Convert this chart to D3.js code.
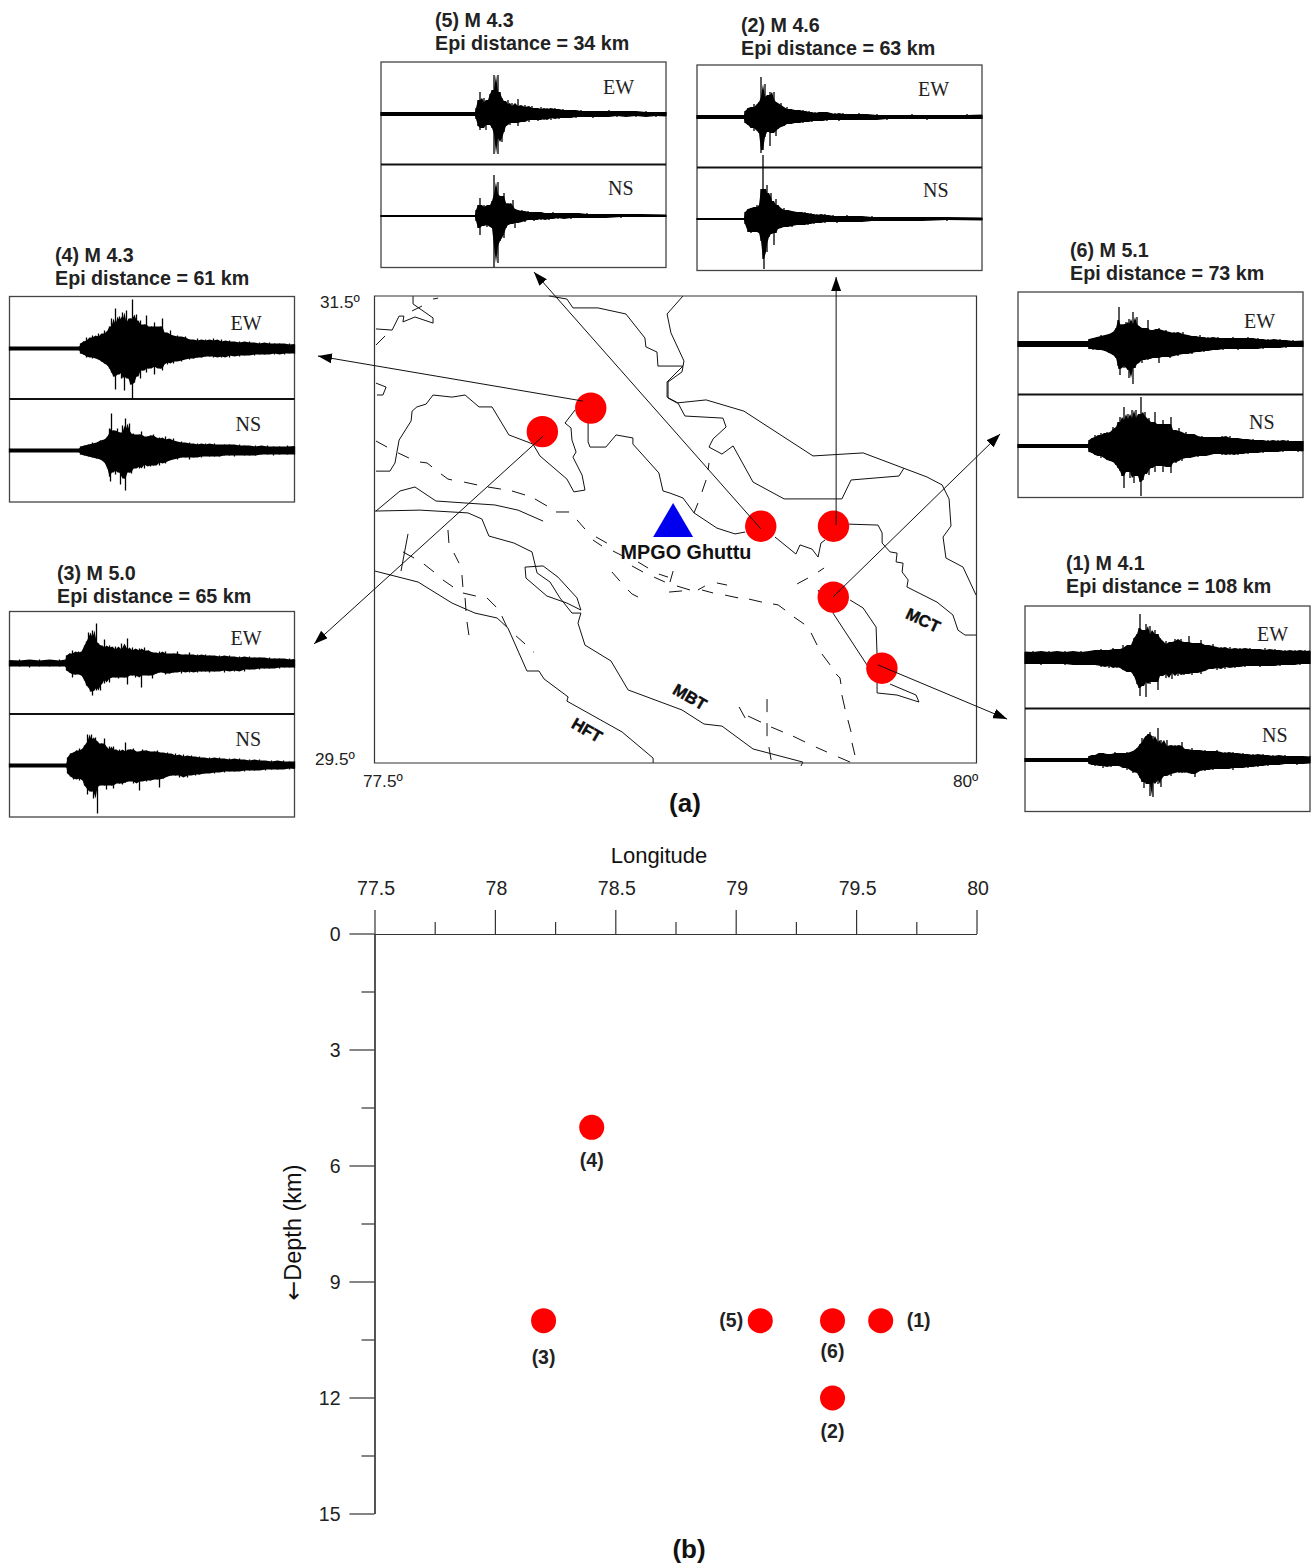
<!DOCTYPE html>
<html>
<head>
<meta charset="utf-8">
<style>
  html, body { margin: 0; padding: 0; background: #fff; }
  svg { display: block; }
  text { font-family: "Liberation Sans", Arial, sans-serif; fill: #111; }
  .wave-tag { font-family: "Liberation Serif", serif; font-size: 20px; fill: #222; }
  .title { font-size: 19.7px; font-weight: bold; fill: #222; }
  .map-deg { font-size: 17.2px; fill: #222; }
  .fault-name { font-size: 16.5px; font-weight: bold; stroke: #000; stroke-width: .4px; }
  .tick text, .tick-label { font-size: 19.5px; fill: #222; }
  .event-label { font-size: 19.5px; font-weight: bold; fill: #222; }
</style>
</head>
<body>
<svg id="chart" width="1312" height="1565"></svg>
<script src="https://cdn.jsdelivr.net/npm/d3@7"></script>
<script>
// events: number, longitude, depth in km, and where the map plots them
const eventIds = ["(1)", "(2)", "(3)", "(4)", "(5)", "(6)"]
const eventLon = [79.6, 79.4, 78.2, 78.4, 79.1, 79.4]
const eventDepth = [10, 12, 10, 5, 10, 10]
const eventMapLon = [79.605, 79.404, 78.195, 78.396, 79.102, 79.403]
const eventMapLat = [29.906, 30.514, 30.919, 31.02, 30.514, 30.21]
const eventMag = ["4.1", "4.6", "5.0", "4.3", "4.3", "5.1"]
const eventDist = [108, 63, 65, 61, 34, 73]

// arrows from each event out to its waveform box, lon/lat
const arrowStart = [[79.589, 29.92], [79.415, 30.519], [78.198, 30.9], [78.364, 31.05], [79.103, 30.502], [79.402, 30.211]]
const arrowTip = [[80.125, 29.688], [79.415, 31.581], [77.247, 30.01], [77.263, 31.243], [78.16, 31.603], [80.096, 30.909]]

const stationName = "MPGO Ghuttu"
const stationLonLat = [78.738, 30.468]
const faultNames = ["MCT", "MBT", "HFT"]
const faultNameLonLat = [[79.776, 30.112], [78.808, 29.783], [78.38, 29.641]]

const lonTicks = [77.5, 78, 78.5, 79, 79.5, 80]
const lonMinorTicks = [77.75, 78.25, 78.75, 79.25, 79.75]
const depthTicks = [0, 3, 6, 9, 12, 15]
const depthMinorTicks = [1.5, 4.5, 7.5, 10.5, 13.5]

// solid geological / fault traces, [lon, lat]
const faultTraces = [
  [[77.658, 31.5], [77.658, 31.466], [77.741, 31.406], [77.741, 31.384], [77.666, 31.41], [77.616, 31.389], [77.62, 31.414], [77.6, 31.414], [77.571, 31.354], [77.504, 31.359]],
  [[77.504, 31.127], [77.546, 31.11], [77.533, 31.076], [77.508, 31.076]],
  [[77.504, 30.75], [77.562, 30.75], [77.583, 30.785], [77.6, 30.883], [77.65, 30.965], [77.654, 31.007], [77.674, 31.025], [77.712, 31.037], [77.741, 31.076], [77.82, 31.067], [77.874, 31.076], [77.932, 31.025], [77.986, 31.025], [78.056, 30.905], [78.156, 30.866], [78.185, 30.815], [78.297, 30.716], [78.326, 30.661], [78.372, 30.669], [78.36, 30.733], [78.322, 30.81], [78.335, 30.832], [78.318, 30.883], [78.314, 30.935], [78.289, 30.956], [78.331, 31.012]],
  [[78.385, 30.956], [78.385, 30.875], [78.393, 30.853], [78.459, 30.853], [78.501, 30.905], [78.571, 30.892], [78.571, 30.866], [78.679, 30.742], [78.696, 30.665], [78.725, 30.656], [78.779, 30.635], [78.825, 30.571], [78.92, 30.506], [78.995, 30.481], [79.037, 30.489]],
  [[79.161, 30.468], [79.248, 30.395], [79.265, 30.434], [79.315, 30.416], [79.34, 30.382], [79.352, 30.442], [79.369, 30.455]],
  [[79.468, 30.523], [79.589, 30.519], [79.606, 30.485], [79.606, 30.442], [79.639, 30.404], [79.668, 30.399], [79.664, 30.361], [79.693, 30.356], [79.689, 30.318], [79.714, 30.284], [79.709, 30.254], [79.834, 30.189], [79.9, 30.134], [79.921, 30.069], [79.95, 30.048], [79.996, 30.048]],
  [[78.223, 31.5], [78.297, 31.487], [78.322, 31.449], [78.426, 31.449], [78.542, 31.423], [78.621, 31.32], [78.625, 31.282], [78.671, 31.26], [78.675, 31.2], [78.779, 31.2], [78.713, 31.132], [78.713, 31.067], [78.758, 31.042], [78.787, 30.986], [78.945, 30.977], [78.958, 30.939], [78.904, 30.888], [78.887, 30.853], [78.941, 30.823], [78.987, 30.858], [79.07, 30.703], [79.199, 30.631], [79.439, 30.631], [79.477, 30.712], [79.676, 30.729], [79.697, 30.763]],
  [[78.779, 31.5], [78.713, 31.423], [78.729, 31.342], [78.783, 31.222], [78.775, 31.175], [78.717, 31.132], [78.717, 31.063], [78.754, 31.042], [78.875, 31.055], [79.032, 31.007], [79.319, 30.815], [79.527, 30.828], [79.792, 30.725], [79.855, 30.691], [79.884, 30.631], [79.892, 30.515], [79.859, 30.468], [79.871, 30.378], [79.942, 30.339], [79.996, 30.219]],
  [[77.504, 30.579], [77.604, 30.665], [77.666, 30.682], [77.753, 30.622], [77.882, 30.613], [77.998, 30.605], [78.094, 30.583], [78.198, 30.536]],
  [[77.5, 30.579], [77.687, 30.583], [77.886, 30.571], [77.944, 30.545], [77.973, 30.472], [78.077, 30.442], [78.152, 30.404], [78.173, 30.314], [78.227, 30.275], [78.268, 30.207], [78.318, 30.142], [78.355, 30.142], [78.343, 30.099], [78.372, 30.005], [78.48, 29.937], [78.551, 29.813], [78.775, 29.727], [78.866, 29.667], [78.941, 29.658], [79.07, 29.56], [79.277, 29.504], [79.269, 29.487]],
  [[78.123, 30.339], [78.198, 30.344], [78.26, 30.296], [78.339, 30.207], [78.355, 30.155], [78.297, 30.185], [78.214, 30.215], [78.127, 30.292], [78.123, 30.339]],
  [[77.5, 30.322], [77.679, 30.275], [77.82, 30.185], [77.915, 30.142], [78.007, 30.121], [78.052, 30.078], [78.131, 29.894], [78.181, 29.894], [78.202, 29.86], [78.302, 29.783], [78.297, 29.765], [78.526, 29.633], [78.655, 29.521], [78.655, 29.5]],
  [[79.402, 30.142], [79.543, 29.92]],
  [[79.473, 30.198], [79.527, 30.164], [79.581, 30.082], [79.585, 29.962]],
  [[79.639, 29.838], [79.747, 29.791], [79.759, 29.761], [79.668, 29.791], [79.585, 29.8], [79.585, 29.843]]
]

// the dashed traces, one short stroke at a time
const dashTraces = [
  [[77.504, 30.879], [77.55, 30.853]], [[77.596, 30.828], [77.641, 30.806]],
  [[77.687, 30.789], [77.716, 30.785], [77.737, 30.768]], [[77.774, 30.738], [77.803, 30.716], [77.82, 30.712]],
  [[77.87, 30.703], [77.924, 30.691]], [[77.969, 30.682], [78.023, 30.673]],
  [[78.069, 30.665], [78.123, 30.648]], [[78.164, 30.631], [78.214, 30.601]],
  [[78.252, 30.575], [78.306, 30.575]], [[78.339, 30.541], [78.372, 30.502]],
  [[78.418, 30.468], [78.463, 30.442]], [[78.405, 30.455], [78.443, 30.429]],
  [[78.488, 30.408], [78.538, 30.382]], [[78.592, 30.361], [78.634, 30.335]],
  [[78.567, 30.344], [78.613, 30.318]], [[78.659, 30.296], [78.704, 30.275]],
  [[78.679, 30.309], [78.717, 30.296]], [[78.738, 30.322], [78.725, 30.275]],
  [[78.484, 30.318], [78.517, 30.279]], [[78.551, 30.241], [78.567, 30.224], [78.592, 30.211]],
  [[78.721, 30.232], [78.775, 30.237]], [[78.754, 30.258], [78.808, 30.241]],
  [[78.841, 30.241], [78.87, 30.258]], [[78.858, 30.241], [78.904, 30.228]],
  [[78.92, 30.271], [78.962, 30.262]], [[78.954, 30.219], [79.008, 30.207]],
  [[79.053, 30.202], [79.107, 30.189]], [[79.153, 30.181], [79.174, 30.177], [79.203, 30.155]],
  [[79.24, 30.125], [79.282, 30.095]], [[79.311, 30.057], [79.336, 30.005]],
  [[79.356, 29.967], [79.39, 29.92]], [[79.415, 29.881], [79.431, 29.864], [79.435, 29.838]],
  [[79.439, 29.791], [79.452, 29.731]], [[79.464, 29.684], [79.477, 29.633]],
  [[79.481, 29.586], [79.493, 29.534]], [[79.253, 30.267], [79.298, 30.292]],
  [[79.34, 30.318], [79.365, 30.335]], [[79.34, 30.241], [79.352, 30.219]],
  [[79.012, 29.74], [79.037, 29.693]], [[79.049, 29.701], [79.103, 29.675]],
  [[79.145, 29.654], [79.194, 29.633]], [[79.236, 29.615], [79.286, 29.59]],
  [[79.331, 29.568], [79.377, 29.547]], [[79.423, 29.526], [79.473, 29.504]],
  [[79.128, 29.774], [79.128, 29.718]], [[79.128, 29.671], [79.128, 29.615]],
  [[79.136, 29.568], [79.145, 29.513]], [[78.887, 30.785], [78.883, 30.755]],
  [[78.875, 30.712], [78.858, 30.661]], [[78.841, 30.613], [78.825, 30.571]],
  [[77.637, 30.481], [77.608, 30.322]], [[77.616, 30.404], [77.662, 30.378]],
  [[77.703, 30.352], [77.745, 30.318]], [[77.782, 30.284], [77.824, 30.254]],
  [[77.865, 30.228], [77.882, 30.224], [77.919, 30.215]], [[77.965, 30.207], [78.003, 30.168]],
  [[78.027, 30.129], [78.048, 30.082]], [[78.086, 30.044], [78.123, 30.01]],
  [[77.803, 30.498], [77.807, 30.442]], [[77.828, 30.399], [77.849, 30.356]],
  [[77.861, 30.305], [77.865, 30.254]], [[77.874, 30.207], [77.878, 30.151]],
  [[77.882, 30.104], [77.89, 30.048]], [[77.654, 31.436], [77.695, 31.457]],
  [[77.741, 31.487], [77.762, 31.491]], [[77.504, 31.29], [77.542, 31.329]],
  [[78.156, 29.975], [78.159, 29.975]]
]

// waveform envelopes: [time along trace, amplitude up, amplitude down]
const ew1 = [[0,6,6],[8,7,6],[16,6,7],[24,7,6],[32,6,6],[40,7,7],[48,6,6],[56,7,7],[64,6,7],[70,8,7],[76,9,9],[80,7,8],[84,8,10],[88,10,8],[92,9,10],[95,8,9],[98,13,12],[102,10,14],[106,13,14],[109,20,18],[112,24,26],[114,30,30],[115,44,38],[117,26,28],[119,28,24],[121,34,39],[123,24,24],[125,32,26],[127,20,22],[130,28,24],[133,24,32],[135,20,18],[138,14,16],[141,17,20],[144,13,14],[147,16,21],[150,19,15],[153,17,18],[156,19,14],[159,15,17],[162,16,16],[164,22,15],[167,15,17],[170,14,15],[173,15,14],[176,18,16],[180,13,13],[184,12,11],[188,14,10],[192,10,12],[196,11,9],[200,9,11],[205,11,9],[210,9,10],[215,10,8],[220,8,9],[225,10,8],[230,9,7],[235,8,9],[240,10,8],[245,8,8],[250,9,7],[255,7,8],[260,8,7],[265,7,7],[270,8,6],[275,7,7],[280,8,6],[285,7,6]]
const ns1 = [[0,2,2],[63,2,2],[64,4,4],[67,5,5],[70,5,6],[74,7,5],[78,7,8],[82,6,6],[86,5,7],[90,8,6],[94,7,6],[98,6,8],[102,8,10],[105,7,8],[108,9,13],[112,12,12],[115,16,18],[117,22,22],[119,18,28],[121,24,20],[123,26,24],[125,28,36],[127,20,22],[128,24,37],[130,18,18],[133,32,24],[135,16,20],[136,20,27],[139,14,16],[142,20,14],[146,13,16],[150,15,12],[154,14,13],[157,18,11],[160,11,13],[163,10,12],[167,12,14],[170,10,17],[175,9,10],[180,10,11],[184,8,9],[188,9,10],[192,10,8],[196,7,9],[200,8,9],[204,7,7],[208,8,10],[213,6,8],[218,7,7],[223,5,8],[228,6,6],[233,5,7],[238,6,5],[243,4,6],[248,5,5],[254,4,5],[260,5,4],[266,4,4],[272,4,5],[278,3,4],[285,4,3]]
const ew2 = [[0,2,2],[47,2,2],[48,6,6],[51,9,8],[54,10,11],[57,13,14],[60,9,10],[62,15,16],[64,40,36],[66,20,33],[68,33,20],[70,18,15],[72,22,14],[73,25,29],[75,18,16],[77,25,14],[79,15,19],[81,12,12],[84,14,10],[87,8,9],[90,10,7],[94,8,7],[98,7,6],[103,6,5],[106,7,6],[109,5,5],[112,6,4],[115,4,5],[118,5,4],[122,4,4],[126,5,3],[130,5,4],[134,3,3],[138,4,3],[142,3,4],[146,4,3],[150,3,3],[156,3,3],[162,4,3],[170,2,3],[180,3,2],[190,2,3],[200,2,2],[215,3,2],[230,2,3],[250,2,2],[270,3,2],[285,2,2]]
const ns2 = [[0,1,1],[47,1,1],[48,7,5],[51,10,13],[54,11,14],[57,12,13],[60,14,12],[62,8,14],[64,30,22],[66,64,40],[67,30,50],[69,26,25],[70,34,33],[72,22,18],[74,26,15],[75,18,12],[77,14,26],[79,20,14],[81,14,10],[84,9,9],[87,11,8],[91,9,7],[95,8,8],[100,7,6],[105,6,6],[108,7,5],[111,5,6],[114,6,4],[117,4,5],[120,5,4],[124,4,3],[128,5,4],[132,3,3],[136,4,3],[140,3,4],[145,3,3],[150,4,2],[157,3,3],[165,2,3],[175,3,2],[190,2,2],[205,2,2],[225,2,1],[250,2,2],[285,1,1]]
const ew3 = [[0,3,3],[10,4,3],[20,3,4],[30,4,3],[40,3,3],[50,4,3],[56,3,3],[57,8,7],[60,10,9],[63,13,14],[66,10,11],[69,12,10],[72,11,12],[75,18,17],[77,22,22],[79,31,24],[81,26,28],[83,33,32],[85,22,24],[87,40,27],[89,20,22],[91,18,27],[93,16,16],[95,24,20],[97,16,15],[100,18,19],[103,14,13],[106,17,14],[109,13,15],[112,20,12],[115,14,14],[118,25,21],[120,13,12],[123,16,12],[126,13,14],[130,15,12],[132,12,24],[135,16,11],[139,13,12],[143,11,15],[147,10,10],[150,12,9],[153,10,9],[156,12,11],[160,9,10],[164,10,9],[168,12,8],[172,8,10],[176,9,8],[180,11,9],[184,8,7],[188,9,9],[192,7,8],[196,9,8],[200,8,9],[205,7,8],[210,8,7],[215,7,9],[220,8,7],[225,6,8],[230,7,6],[235,6,8],[240,7,6],[245,6,5],[250,6,6],[255,5,5],[260,6,5],[265,5,4],[270,5,5],[275,4,4],[280,5,4],[285,4,4]]
const ns3 = [[0,2,2],[57,2,2],[58,8,8],[61,12,11],[64,13,14],[67,15,13],[70,17,15],[73,12,13],[75,20,20],[78,31,29],[80,24,24],[82,31,26],[84,26,33],[86,28,22],[88,24,48],[90,16,20],[92,22,18],[95,27,20],[97,15,24],[100,19,18],[102,16,20],[104,19,23],[107,14,15],[110,16,18],[113,14,19],[116,23,17],[118,14,16],[121,16,14],[124,17,18],[127,13,16],[130,14,25],[133,16,14],[137,15,16],[141,13,15],[145,14,13],[148,15,14],[150,13,22],[154,12,13],[158,13,11],[162,10,10],[166,12,10],[170,9,12],[174,11,10],[178,9,12],[182,10,9],[186,8,10],[190,9,9],[195,7,8],[200,8,7],[205,7,8],[210,8,6],[215,6,7],[220,7,6],[225,6,6],[230,7,5],[235,5,6],[240,6,5],[245,5,5],[250,6,4],[256,4,5],[262,5,4],[268,4,4],[274,5,3],[280,4,4],[285,4,3]]
const ew4 = [[0,2,2],[70,2,2],[71,5,5],[74,7,6],[77,11,9],[80,8,8],[83,13,10],[86,11,9],[89,15,11],[92,12,13],[95,18,15],[98,15,17],[100,22,20],[102,30,24],[104,22,28],[106,40,41],[108,24,26],[110,32,22],[112,28,30],[113,36,24],[115,26,42],[117,38,28],[119,24,30],[121,30,36],[123,49,50],[125,28,34],[127,34,28],[129,24,22],[131,28,30],[133,20,22],[135,24,18],[137,33,24],[139,20,20],[142,22,18],[145,26,26],[148,18,18],[151,22,20],[153,30,22],[155,16,14],[158,14,16],[161,18,13],[164,12,15],[168,13,12],[172,11,13],[176,12,10],[180,9,11],[184,8,10],[188,10,9],[192,7,9],[196,9,8],[200,8,8],[204,10,9],[208,7,8],[212,9,9],[216,7,7],[220,8,9],[225,6,7],[230,7,8],[235,6,7],[240,7,6],[245,5,7],[250,6,6],[255,5,6],[260,6,5],[265,5,6],[270,5,5],[275,4,6],[280,5,5],[285,4,5]]
const ns4 = [[0,2,2],[70,2,2],[71,4,4],[75,5,5],[79,6,6],[83,8,7],[87,7,8],[91,10,9],[95,11,12],[98,14,18],[100,22,26],[101,18,31],[102,37,22],[104,20,20],[106,19,24],[108,22,18],[110,18,22],[111,16,34],[113,25,24],[115,18,28],[116,32,40],[118,20,20],[120,27,22],[122,16,23],[124,17,18],[127,14,16],[130,16,18],[132,19,14],[135,13,18],[138,14,13],[141,15,16],[144,16,15],[147,12,12],[150,13,15],[153,11,12],[156,14,13],[160,10,10],[164,12,8],[168,8,9],[172,9,7],[176,7,7],[180,8,9],[184,6,7],[188,7,6],[192,6,7],[196,7,5],[200,6,6],[205,7,6],[210,5,6],[215,6,5],[220,6,5],[225,5,6],[230,6,4],[235,5,5],[240,4,5],[246,5,5],[252,4,4],[258,5,4],[264,4,5],[270,4,4],[278,5,4],[285,4,4]]
const ew5 = [[0,2,2],[94,2,2],[95,6,5],[97,14,12],[99,22,16],[101,12,14],[103,16,10],[105,11,16],[107,14,11],[109,20,9],[111,24,14],[113,39,40],[115,18,20],[117,39,40],[119,22,24],[121,16,28],[123,13,18],[125,10,12],[127,14,9],[129,8,11],[131,11,7],[134,8,9],[137,15,12],[140,7,8],[144,9,6],[148,6,8],[151,8,5],[154,6,6],[157,5,7],[160,7,5],[163,5,6],[166,6,4],[170,5,6],[174,6,4],[178,4,5],[182,5,4],[186,4,4],[190,4,3],[195,3,4],[200,4,3],[206,3,3],[212,3,4],[220,3,3],[228,4,2],[236,3,3],[245,3,2],[255,2,3],[265,3,2],[275,2,3],[285,2,2]]
const ns5 = [[0,1,1],[94,1,1],[95,6,5],[97,11,12],[99,18,19],[101,9,10],[103,11,8],[106,8,11],[109,11,9],[111,15,12],[113,41,51],[115,22,30],[117,34,47],[119,14,25],[121,20,18],[123,23,22],[125,12,12],[127,13,9],[130,10,8],[132,16,6],[134,7,12],[137,5,7],[141,6,5],[144,4,6],[147,5,4],[150,4,4],[153,3,5],[156,4,3],[160,4,4],[164,3,3],[168,3,4],[172,4,2],[177,3,3],[183,3,2],[190,3,3],[198,2,2],[206,3,2],[215,2,2],[225,2,1],[240,2,2],[260,2,1],[285,1,1]]
const ew6 = [[0,3,3],[70,3,3],[71,5,5],[75,6,6],[79,7,5],[83,9,6],[87,8,7],[91,10,9],[95,12,11],[98,16,14],[100,24,22],[101,37,25],[102,18,31],[104,20,22],[106,19,24],[108,22,20],[110,20,26],[111,25,34],[113,18,22],[115,32,40],[117,20,24],[119,27,20],[121,18,16],[124,14,19],[127,16,14],[130,24,16],[132,14,15],[135,12,13],[138,15,14],[141,16,19],[144,13,12],[148,14,13],[152,11,14],[156,12,11],[160,10,12],[165,12,10],[170,9,9],[174,8,10],[178,7,8],[182,9,7],[186,6,8],[190,7,7],[195,6,6],[200,7,5],[205,5,6],[210,6,5],[215,7,5],[220,5,6],[225,6,4],[230,7,5],[235,5,5],[240,6,4],[245,4,5],[250,5,4],[256,4,4],[262,5,3],[268,3,4],[275,4,3],[285,3,3]]
const ns6 = [[0,2,2],[70,2,2],[71,6,6],[74,8,7],[77,11,9],[80,9,10],[83,13,12],[86,11,10],[89,14,14],[92,13,15],[95,19,16],[98,17,19],[100,24,22],[102,29,25],[104,24,30],[106,39,42],[108,26,24],[110,32,26],[112,27,32],[114,36,26],[116,28,37],[118,36,30],[120,26,28],[122,32,36],[123,49,50],[125,30,34],[127,34,28],[129,26,24],[131,28,29],[133,20,22],[135,24,18],[137,34,26],[139,20,20],[142,22,20],[145,26,26],[148,18,18],[151,22,21],[153,29,27],[155,16,16],[158,15,17],[161,18,13],[164,12,15],[168,14,12],[172,12,12],[176,12,10],[180,9,11],[184,10,10],[188,9,10],[192,8,9],[196,9,8],[200,9,8],[204,10,9],[208,8,8],[212,10,9],[216,8,8],[220,8,9],[225,7,7],[230,6,8],[235,7,7],[240,6,6],[245,5,7],[250,6,6],[255,5,6],[260,6,5],[265,5,6],[270,6,5],[275,5,5],[280,5,6],[285,5,5]]
const ewTraces = [ew1, ew2, ew3, ew4, ew5, ew6]
const nsTraces = [ns1, ns2, ns3, ns4, ns5, ns6]

const svg = d3.select("#chart")

const mapBox = { left: 374.5, right: 976.5, top: 296, bottom: 763 }
const lonScale = d3.scaleLinear().domain([77.5, 80]).range([375, 977])
const latScale = d3.scaleLinear().domain([29.5, 31.5]).range([mapBox.bottom, mapBox.top])
const depthScale = d3.scaleLinear().domain([0, 15]).range([934, 1514])

const mapLine = d3.line().x((d) => lonScale(d[0])).y((d) => latScale(d[1]))

svg.append("defs").append("marker")
  .attr("id", "head")
  .attr("markerUnits", "userSpaceOnUse")
  .attr("viewBox", "0 0 14 10")
  .attr("refX", 14)
  .attr("refY", 5)
  .attr("markerWidth", 14)
  .attr("markerHeight", 10)
  .attr("orient", "auto")
  .append("path")
  .attr("d", "M0,0L14,5L0,10Z")
  .attr("fill", "#000")

// waveform boxes, index follows eventIds
const panelLeft = [1025, 697, 9.5, 9.5, 381, 1018]
const panelTop = [606, 65, 611.5, 296.5, 62, 292]
const panelTitleX = [1066, 741, 57, 55, 435, 1070]
const panelTitleY = [570, 32, 580, 262, 27, 257]
const panelTagDx = [232, 221, 221, 221, 222, 226]
const panelTagDy = [4, 0, 2, 2, 1, 5]
const panelWidth = 285
const panelHeight = 205.5

const traceTime = d3.scaleLinear().domain([0, 285]).range([0, panelWidth])
const traceAmp = d3.scaleLinear().domain([-60, 60]).range([60, -60])

// solid middle of the trace: the median of each sample and its neighbours, so the tallest peaks stand clear
const coreOf = (trace) => trace.map((d, i) => {
  const near = trace.slice(Math.max(i - 1, 0), i + 2)
  return [d[0], d3.median(near, (n) => n[1]), d3.median(near, (n) => n[2])]
})
const traceArea = d3.area()
  .x((d) => traceTime(d[0]))
  .y0((d) => traceAmp(-d[2]))
  .y1((d) => traceAmp(d[1]))

const drawTrace = (g, trace, baseline) => {
  const t = g.append("g").attr("transform", `translate(0,${baseline})`)
  t.append("path").datum(coreOf(trace)).attr("d", traceArea).attr("fill", "#000")
  t.selectAll("line").data(trace).join("line")
    .attr("x1", (d) => traceTime(d[0]))
    .attr("x2", (d) => traceTime(d[0]))
    .attr("y1", (d) => traceAmp(d[1]))
    .attr("y2", (d) => traceAmp(-d[2]))
    .attr("stroke", "#000")
    .attr("stroke-width", 1.3)
}

eventIds.forEach((id, i) => {
  const g = svg.append("g").attr("transform", `translate(${panelLeft[i]},${panelTop[i]})`)

  g.append("rect")
    .attr("width", panelWidth)
    .attr("height", panelHeight)
    .attr("fill", "#fff")
    .attr("stroke", "#444")
    .attr("stroke-width", 1.3)
  g.append("line")
    .attr("x2", panelWidth)
    .attr("y1", 102.5)
    .attr("y2", 102.5)
    .attr("stroke", "#111")
    .attr("stroke-width", 1.8)

  drawTrace(g, ewTraces[i], 52)
  drawTrace(g, nsTraces[i], 154)

  g.append("text").attr("class", "wave-tag").attr("x", panelTagDx[i]).attr("y", 31 + panelTagDy[i]).text("EW")
  g.append("text").attr("class", "wave-tag").attr("x", panelTagDx[i] + 5).attr("y", 132 + panelTagDy[i]).text("NS")

  svg.append("text").attr("class", "title").attr("x", panelTitleX[i]).attr("y", panelTitleY[i])
    .text(`${id} M ${eventMag[i]}`)
  svg.append("text").attr("class", "title").attr("x", panelTitleX[i]).attr("y", panelTitleY[i] + 23)
    .text(`Epi distance = ${eventDist[i]} km`)
})

// (a) the map
const map = svg.append("g")

map.append("g").selectAll("path").data(faultTraces).join("path")
  .attr("d", mapLine)
  .attr("fill", "none")
  .attr("stroke", "#111")
  .attr("stroke-width", 1)

map.append("g").selectAll("path").data(dashTraces).join("path")
  .attr("d", mapLine)
  .attr("fill", "none")
  .attr("stroke", "#111")
  .attr("stroke-width", 1)

map.append("path")
  .attr("d", `M${mapBox.left},${mapBox.top}H${mapBox.right}V${mapBox.bottom}H${mapBox.left}Z`)
  .attr("fill", "none")
  .attr("stroke", "#333")
  .attr("stroke-width", 1.2)

map.append("g").selectAll("circle").data(eventIds).join("circle")
  .attr("cx", (d, i) => lonScale(eventMapLon[i]))
  .attr("cy", (d, i) => latScale(eventMapLat[i]))
  .attr("r", 15.7)
  .attr("fill", "#fe0000")

const sx = lonScale(stationLonLat[0])
const sy = latScale(stationLonLat[1])
map.append("path")
  .attr("d", `M${sx},${sy - 34}L${sx + 20},${sy}L${sx - 20},${sy}Z`)
  .attr("fill", "#0000ee")

map.append("text")
  .attr("x", 686)
  .attr("y", 559)
  .attr("text-anchor", "middle")
  .attr("font-size", 19.8)
  .attr("font-weight", "bold")
  .attr("fill", "#111")
  .text(stationName)

const faultNameAngle = [25, 30, 30]
map.append("g").selectAll("text").data(faultNames).join("text")
  .attr("class", "fault-name")
  .attr("text-anchor", "middle")
  .attr("transform", (d, i) => `translate(${lonScale(faultNameLonLat[i][0])},${latScale(faultNameLonLat[i][1])}) rotate(${faultNameAngle[i]})`)
  .attr("dy", "0.35em")
  .text((d) => d)

map.append("g").selectAll("line").data(arrowStart).join("line")
  .attr("x1", (d) => lonScale(d[0]))
  .attr("y1", (d) => latScale(d[1]))
  .attr("x2", (d, i) => lonScale(arrowTip[i][0]))
  .attr("y2", (d, i) => latScale(arrowTip[i][1]))
  .attr("stroke", "#111")
  .attr("stroke-width", 1)
  .attr("marker-end", "url(#head)")

const degLabels = [["31.5º", 320, 308], ["29.5º", 315, 765], ["77.5º", 363, 787], ["80º", 953, 787]]
map.append("g").selectAll("text").data(degLabels).join("text")
  .attr("class", "map-deg")
  .attr("x", (d) => d[1])
  .attr("y", (d) => d[2])
  .text((d) => d[0])

svg.append("text")
  .attr("x", 685)
  .attr("y", 812)
  .attr("text-anchor", "middle")
  .attr("font-size", 26)
  .attr("font-weight", "bold")
  .attr("fill", "#222")
  .text("(a)")

// (b) depth section
const section = svg.append("g")
const axisX = mapBox.left
const axisY = depthScale(0)

const styleAxis = (g) => {
  g.selectAll("path,line").attr("stroke", "#333").attr("stroke-width", 1.2)
}

section.append("g")
  .attr("transform", `translate(-0.5,${axisY})`)
  .call(d3.axisTop(lonScale).tickValues(lonMinorTicks).tickSize(12).tickSizeOuter(0).tickFormat(""))
  .call(styleAxis)
section.append("g")
  .attr("transform", `translate(-0.5,${axisY})`)
  .call(d3.axisTop(lonScale).tickValues(lonTicks).tickSize(24).tickSizeOuter(0).tickPadding(15).tickFormat((d) => d))
  .call(styleAxis)
  .call((g) => g.selectAll("text").attr("dx", "1"))
section.append("g")
  .attr("transform", `translate(${axisX},-0.5)`)
  .call(d3.axisLeft(depthScale).tickValues(depthMinorTicks).tickSize(13).tickSizeOuter(0).tickFormat(""))
  .call(styleAxis)
section.append("g")
  .attr("transform", `translate(${axisX},-0.5)`)
  .call(d3.axisLeft(depthScale).tickValues(depthTicks).tickSize(25).tickSizeOuter(0).tickPadding(9).tickFormat((d) => d))
  .call(styleAxis)
  .call((g) => g.selectAll("text").attr("dy", "0.37em"))
section.selectAll("g").attr("font-family", null).attr("font-size", null)

section.append("text")
  .attr("x", 659)
  .attr("y", 863)
  .attr("text-anchor", "middle")
  .attr("font-size", 22)
  .attr("fill", "#222")
  .text("Longitude")

const depthTitle = section.append("text")
  .attr("transform", "translate(301,1232.5) rotate(-90)")
  .attr("text-anchor", "middle")
  .attr("font-size", 23.5)
  .attr("fill", "#222")
depthTitle.append("tspan").attr("font-family", "DejaVu Sans").text("←")
depthTitle.append("tspan").text("Depth (km)")

section.append("g").selectAll("circle").data(eventIds).join("circle")
  .attr("cx", (d, i) => lonScale(eventLon[i]))
  .attr("cy", (d, i) => depthScale(eventDepth[i]))
  .attr("r", 12.5)
  .attr("fill", "#fe0000")

const eventLabelDx = [38, 0, 0, 0, -29, 0]
const eventLabelDy = [6, 40, 43, 40, 6, 37]
section.append("g").selectAll("text").data(eventIds).join("text")
  .attr("class", "event-label")
  .attr("text-anchor", "middle")
  .attr("x", (d, i) => lonScale(eventLon[i]) + eventLabelDx[i])
  .attr("y", (d, i) => depthScale(eventDepth[i]) + eventLabelDy[i])
  .text((d) => d)

svg.append("text")
  .attr("x", 689)
  .attr("y", 1558)
  .attr("text-anchor", "middle")
  .attr("font-size", 26)
  .attr("font-weight", "bold")
  .attr("fill", "#222")
  .text("(b)")
</script>
</body>
</html>
